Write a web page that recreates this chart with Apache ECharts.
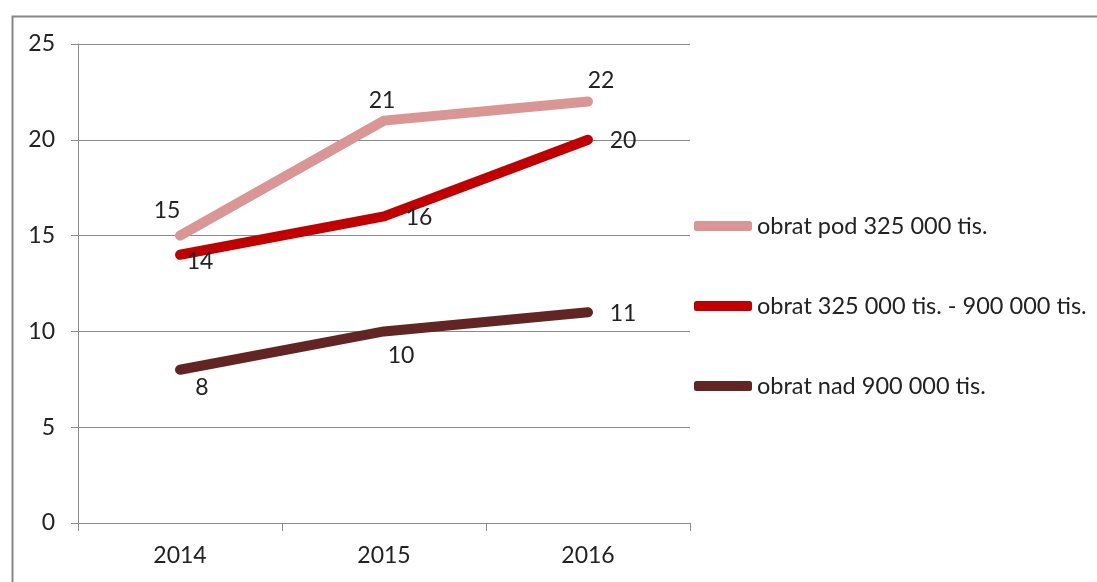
<!DOCTYPE html>
<html>
<head>
<meta charset="utf-8">
<script src="https://cdn.jsdelivr.net/npm/echarts@6/dist/echarts.min.js"></script>
<style>html,body{margin:0;padding:0;background:#fff;}#c{width:1097px;height:582px;}</style>
</head>
<body>
<div id="c"></div>
<script>
const categories = ['2014', '2015', '2016'];
const seriesNames = ['obrat pod 325 000 tis.', 'obrat 325 000 tis. - 900 000 tis.', 'obrat nad 900 000 tis.'];
const seriesPod = [15, 21, 22];
const seriesMid = [14, 16, 20];
const seriesNad = [8, 10, 11];
const colors = ['#D99694', '#C00000', '#632523'];
const labelOffsets = [
  [[-13, -25], [-2, -20], [13, -21]],
  [[20, 7], [35, 1], [35, 1]],
  [[22, 18], [17, 24], [35, 1]]
];
const FONT = 'Lato';
const FS = 23;
const values = [seriesPod, seriesMid, seriesNad];

const chart = echarts.init(document.getElementById('c'), null, {renderer: 'canvas'});
chart.setOption({
  animation: false,
  backgroundColor: '#fff',
  graphic: [{
    type: 'rect', left: 10, top: 14, shape: {x: 0, y: 0, width: 1200, height: 700},
    style: {fill: 'none', stroke: '#878787', lineWidth: 2}, z: -1
  }],
  grid: {left: 78, right: 407, top: 44, bottom: 59, containLabel: false},
  legend: {
    orient: 'vertical', left: 694, top: 212, itemGap: 52, padding: 0,
    itemWidth: 58, itemHeight: 10, icon: 'roundRect',
    textStyle: {fontFamily: FONT, fontSize: 23.5, color: '#222', lineHeight: 28},
    data: seriesNames
  },
  xAxis: {
    type: 'category', data: categories, boundaryGap: true,
    axisLine: {lineStyle: {color: '#8a8a8a', width: 1}},
    axisTick: {show: true, length: 8, lineStyle: {color: '#8a8a8a'}},
    axisLabel: {fontFamily: FONT, fontSize: FS, color: '#222', margin: 21}
  },
  yAxis: {
    type: 'value', min: 0, max: 25, interval: 5,
    axisLine: {show: true, lineStyle: {color: '#8a8a8a', width: 1}},
    axisTick: {show: true, length: 7, lineStyle: {color: '#8a8a8a'}},
    axisLabel: {fontFamily: FONT, fontSize: FS, color: '#222', margin: 23},
    splitLine: {lineStyle: {color: '#8a8a8a', width: 1}}
  },
  series: values.map((vals, si) => ({
    name: seriesNames[si], type: 'line',
    data: vals.map((v, i) => ({
      value: v,
      label: {show: true, position: 'inside', offset: labelOffsets[si][i], formatter: String(v),
        fontFamily: FONT, fontSize: FS, color: '#222'}
    })),
    color: colors[si],
    lineStyle: {width: 10, color: colors[si], cap: 'round', join: 'round'},
    itemStyle: {color: colors[si]},
    symbol: 'circle', symbolSize: 2, showSymbol: true,
    z: 3 - si
  }))
});
</script>
</body>
</html>
